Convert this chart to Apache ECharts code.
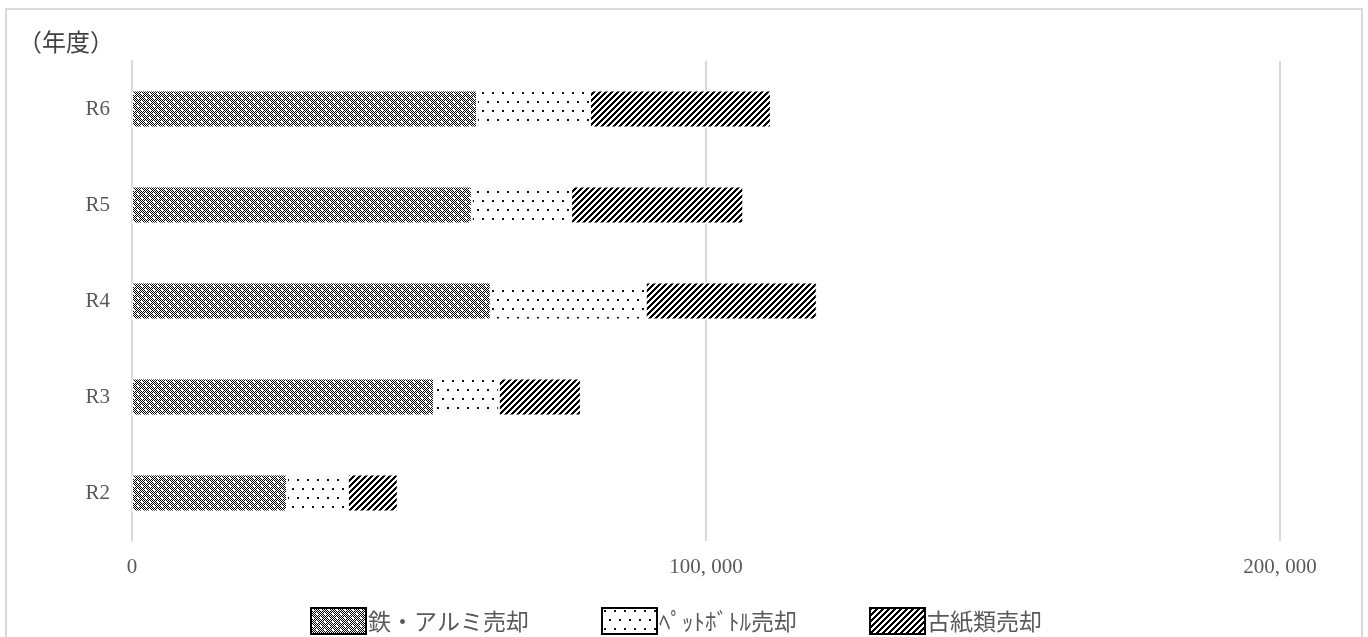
<!DOCTYPE html>
<html>
<head>
<meta charset="utf-8">
<script src="https://cdn.jsdelivr.net/npm/echarts@6/dist/echarts.min.js"></script>
<style>html,body{margin:0;padding:0;background:#fff;}#c{width:1368px;height:637px;}</style>
</head>
<body>
<div id="c"></div>
<script>
const categories = ['R2', 'R3', 'R4', 'R5', 'R6'];
const ironAluminium = [27000, 52600, 62500, 59200, 60100];
const petBottle = [10600, 11300, 27000, 17300, 19700];
const wastePaper = [8700, 14300, 29800, 30000, 31500];
const seriesNames = ['鉄・アルミ売却', 'ﾍﾟｯﾄﾎﾞﾄﾙ売却', '古紙類売却'];
const xTicks = [0, 100000, 200000];

function makeTile(w, h, draw) {
  const c = document.createElement('canvas');
  c.width = w; c.height = h;
  const g = c.getContext('2d');
  g.fillStyle = '#fff'; g.fillRect(0, 0, w, h);
  draw(g);
  return c;
}
const ironTile = makeTile(8, 8, g => {
  g.fillStyle = '#000';
  for (let y = 0; y < 8; y++) for (let x = 0; x < 8; x++) if ((x + y) % 2 === 0) g.fillRect(x, y, 1, 1);
  g.fillStyle = '#fff';
  g.fillRect(1, 1, 2, 2); g.fillRect(5, 5, 2, 2);
});
const petTile = makeTile(10, 18, g => {
  g.fillStyle = '#111';
  g.fillRect(2, 2, 2, 2);
  g.fillRect(7, 11, 2, 2);
});
const paperTile = makeTile(6, 6, g => {
  g.fillStyle = '#000';
  for (let y = 0; y < 6; y++) for (let x = 0; x < 6; x++) if ((x + y) % 6 < 3) g.fillRect(x, y, 1, 1);
});
const fills = [ironTile, petTile, paperTile].map(t => ({ image: t, repeat: 'repeat' }));
const values = [ironAluminium, petBottle, wastePaper];

const chart = echarts.init(document.getElementById('c'), null, { renderer: 'canvas' });
chart.setOption({
  animation: false,
  backgroundColor: '#fff',
  graphic: [
    { type: 'rect', shape: { x: 6, y: 9, width: 1356, height: 640 }, style: { fill: 'none', stroke: '#d9d9d9', lineWidth: 2 } },
    { type: 'text', left: 18, top: 30, style: { text: '（年度）', font: '24px "Noto Sans CJK JP"', fill: '#404040' } }
  ],
  grid: { left: 132, right: 88, top: 61, bottom: 96, containLabel: false },
  legend: {
    top: 602, left: 305,
    itemWidth: 55, itemHeight: 26, itemGap: 72,
    textStyle: { fontFamily: '"Noto Sans CJK JP"', fontSize: 23, color: '#595959', padding: [0, 0, 0, -3] },
    data: seriesNames.map((n, i) => ({ name: n, icon: 'rect', itemStyle: { color: fills[i], borderColor: '#000', borderWidth: 2 } }))
  },
  xAxis: {
    type: 'value', min: 0, max: 200000, interval: 100000,
    axisLine: { show: false }, axisTick: { show: false },
    splitLine: { show: true, lineStyle: { color: '#d9d9d9', width: 2 } },
    axisLabel: {
      margin: 16, color: '#595959', fontFamily: '"Liberation Serif"', fontSize: 21,
      formatter: v => xTicks.includes(v) ? v.toLocaleString('en-US').replace(',', ', ') : ''
    }
  },
  yAxis: {
    type: 'category', data: categories,
    axisLine: { show: true, lineStyle: { color: '#d9d9d9', width: 2 } },
    axisTick: { show: false },
    axisLabel: { margin: 22, color: '#595959', fontFamily: '"Liberation Serif"', fontSize: 21 }
  },
  series: seriesNames.map((n, i) => ({
    name: n, type: 'bar', stack: 'total', barWidth: 37,
    itemStyle: { color: fills[i], borderColor: '#fff', borderWidth: 1 },
    data: values[i]
  }))
});
</script>
</body>
</html>
